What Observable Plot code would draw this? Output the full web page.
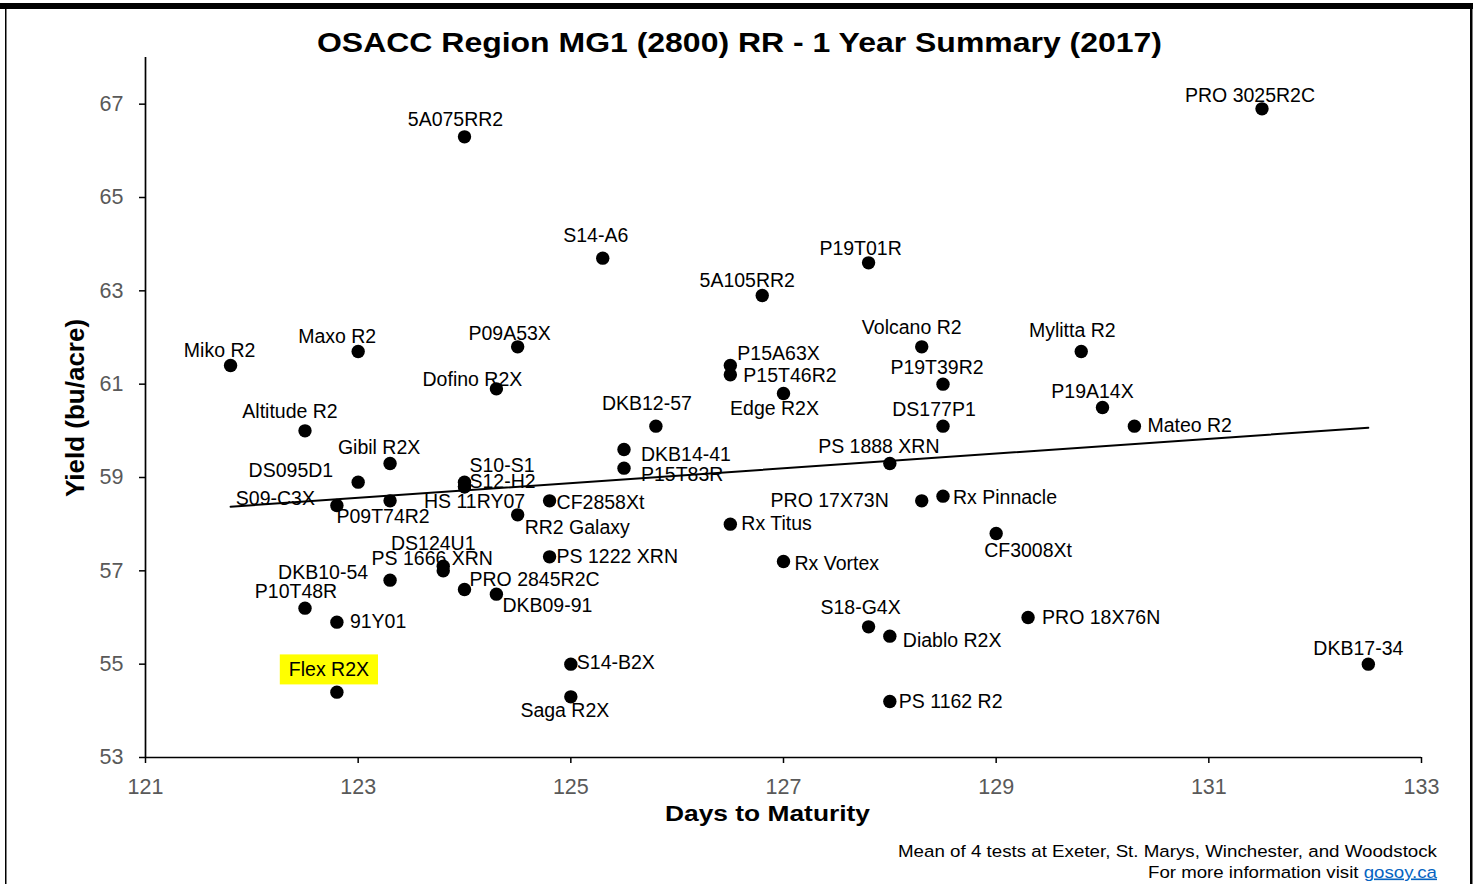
<!DOCTYPE html>
<html><head><meta charset="utf-8">
<script src="https://cdn.jsdelivr.net/npm/d3@7"></script>
<script src="https://cdn.jsdelivr.net/npm/@observablehq/plot@0.6"></script>
<style>
html,body{margin:0;padding:0;background:#fff;}
#chart{position:relative;width:1477px;height:884px;overflow:hidden;}
svg{display:block}
</style></head><body><div id="chart"></div>
<script>
// ---- data ----
const varieties = ["Miko R2","Maxo R2","P09A53X","Dofino R2X","Altitude R2","Gibil R2X","DS095D1","S09-C3X","P09T74R2","S10-S1","S12-H2","HS 11RY07","CF2858Xt","RR2 Galaxy","DKB12-57","DKB14-41","P15T83R","P15A63X","P15T46R2","Edge R2X","5A075RR2","S14-A6","5A105RR2","P19T01R","PRO 3025R2C","Volcano R2","Mylitta R2","P19T39R2","P19A14X","Mateo R2","DS177P1","PS 1888 XRN","PRO 17X73N","Rx Pinnacle","Rx Titus","CF3008Xt","Rx Vortex","S18-G4X","Diablo R2X","PRO 18X76N","DKB17-34","PS 1162 R2","DS124U1","PS 1666 XRN","DKB10-54","P10T48R","91Y01","PRO 2845R2C","DKB09-91","PS 1222 XRN","S14-B2X","Saga R2X","Flex R2X"];
const days = [121.8,123.0,124.5,124.3,122.5,123.3,123.0,122.8,123.3,124.0,124.0,124.0,124.8,124.5,125.8,125.5,125.5,126.5,126.5,127.0,124.0,125.3,126.8,127.8,131.5,128.3,129.8,128.5,130.0,130.3,128.5,128.0,128.3,128.5,126.5,129.0,127.0,127.8,128.0,129.3,132.5,128.0,123.8,123.8,123.3,122.5,122.8,124.0,124.3,124.8,125.0,125.0,122.8];
const yields = [61.4,61.7,61.8,60.9,60.0,59.3,58.9,58.4,58.5,58.9,58.8,58.8,58.5,58.2,60.1,59.6,59.2,61.4,61.2,60.8,66.3,63.7,62.9,63.6,66.9,61.8,61.7,61.0,60.5,60.1,60.1,59.3,58.5,58.6,58.0,57.8,57.2,55.8,55.6,56.0,55.0,54.2,57.1,57.0,56.8,56.2,55.9,56.6,56.5,57.3,55.0,54.3,54.4];
const xTicks = [121,123,125,127,129,131,133];
const yTicks = [53,55,57,59,61,63,65,67];
const highlighted = ["Flex R2X"];
const titleText = "OSACC Region MG1 (2800) RR - 1 Year Summary (2017)";
const xTitle = "Days to Maturity";
const yTitle = "Yield (bu/acre)";
const note1 = "Mean of 4 tests at Exeter, St. Marys, Winchester, and Woodstock";
const note2 = "For more information visit ";
const noteLink = "gosoy.ca";

// ---- label layout (anchor, dx, dy in px), same order as varieties ----
const labelLayout = [
 ["middle",-11,-15],["middle",-21,-15],["middle",-8,-13],["middle",-24,-9],["middle",-15,-19],
 ["middle",-11,-16],["end",-25,-11],["end",-22,-7],["middle",-7,15.5],["start",5,-16.5],
 ["start",5,-5],["middle",10,15],["start",7,2],["start",7,13],["middle",-9,-22],
 ["start",17,5],["start",17,6.5],["start",7,-12],["start",13,0.5],["middle",-9,15],
 ["middle",-9,-17],["middle",-7,-22],["middle",-15,-15],["middle",-8,-14],["middle",-12,-13],
 ["middle",-10,-19],["middle",-9,-21],["middle",-6,-16],["middle",-10,-16],["start",13,0],
 ["middle",-9,-16],["middle",-11,-17],["end",-33,0],["start",10,2],["start",11,0],
 ["start",-12,17],["start",11,2],["middle",-8,-19],["start",13,5],["start",14,0],
 ["middle",-10,-15],["start",9,0],["middle",-10,-22],["middle",-11,-12],["end",-22,-7],
 ["middle",-9,-16],["start",13,0],["start",5,-10],["start",6,12],["start",7,0],
 ["start",6,-1],["middle",-6,14],["middle",-8,-22]
];

const data = varieties.map((name, i) => ({name, days: days[i], yield: yields[i]}));

const FONT = "'Liberation Sans', Arial, Helvetica, sans-serif";

const labelMarks = data.map((d, i) => Plot.text([d], {
  x: "days", y: "yield", text: "name",
  textAnchor: labelLayout[i][0], dx: labelLayout[i][1], dy: labelLayout[i][2],
  fontSize: 19.5, fill: "black"
}));

const svg = Plot.plot({
  width: 1477, height: 884,
  marginLeft: 145, marginRight: 56, marginTop: 57, marginBottom: 127,
  style: {fontFamily: FONT, fontSize: "19.5px", background: "white", color: "black", overflow: "visible"},
  x: {domain: [121, 133], label: null},
  y: {domain: [53, 68], label: null},
  marks: [
    Plot.axisX({ticks: xTicks, tickFormat: d3.format("d"), tickSize: 6, tickPadding: 15, fontSize: 21.5, fill: "#595959", stroke: "black", strokeWidth: 1.5, label: null}),
    Plot.axisY({ticks: yTicks, tickFormat: d3.format("d"), tickSize: 6, tickPadding: 16, fontSize: 21.5, fill: "#595959", stroke: "black", strokeWidth: 1.5, label: null}),
    Plot.ruleX([121], {stroke: "black", strokeWidth: 1.7}),
    Plot.ruleY([53], {stroke: "black", strokeWidth: 1.7}),
    ...labelMarks,
    Plot.linearRegressionY(data, {x: "days", y: "yield", stroke: "black", strokeWidth: 2, ci: 0}),
    Plot.dot(data, {x: "days", y: "yield", r: 6.7, fill: "black"})
  ]
});

document.getElementById("chart").appendChild(svg);
const s = d3.select(svg);

// highlight box behind highlighted label(s)
Array.from(svg.querySelectorAll("text")).forEach(function(t){
  if (!highlighted.includes(t.textContent.trim())) return;
  const b = t.getBBox();
  const r = document.createElementNS("http://www.w3.org/2000/svg", "rect");
  r.setAttribute("x", b.x - 9); r.setAttribute("y", b.y - 4);
  r.setAttribute("width", b.width + 18); r.setAttribute("height", b.height + 8);
  r.setAttribute("fill", "#FFFF00");
  r.setAttribute("stroke", "none");
  const tr = t.getAttribute("transform");
  if (tr) r.setAttribute("transform", tr);
  t.parentNode.insertBefore(r, t);
});

// titles
s.append("text").attr("x", 317).attr("y", 52).attr("text-anchor", "start").attr("font-family", FONT).attr("font-weight", "bold")
 .attr("font-size", 28).attr("fill", "black").attr("textLength", 845).attr("lengthAdjust", "spacingAndGlyphs").text(titleText);
s.append("text").attr("x", 665).attr("y", 821).attr("text-anchor", "start").attr("font-family", FONT).attr("font-weight", "bold")
 .attr("font-size", 22.5).attr("fill", "black").attr("textLength", 205).attr("lengthAdjust", "spacingAndGlyphs").text(xTitle);
s.append("text").attr("transform", "translate(83.5,408) rotate(-90)").attr("text-anchor", "middle")
 .attr("font-family", FONT).attr("font-weight", "bold").attr("font-size", 26).attr("fill", "black").text(yTitle);
s.append("text").attr("x", 898).attr("y", 856.7).attr("text-anchor", "start").attr("font-family", FONT).attr("font-size", 16.3)
 .attr("fill", "black").attr("textLength", 539).attr("lengthAdjust", "spacingAndGlyphs").text(note1);
const n2 = s.append("text").attr("x", 1148).attr("y", 877.5).attr("text-anchor", "start").attr("font-family", FONT).attr("font-size", 16.3)
 .attr("fill", "black").attr("textLength", 289).attr("lengthAdjust", "spacingAndGlyphs");
n2.append("tspan").text(note2);
n2.append("tspan").attr("fill", "#0563C1").attr("text-decoration", "underline").text(noteLink);

// outer frame
s.append("rect").attr("x", 0).attr("y", 3).attr("width", 1473).attr("height", 6).attr("fill", "black");
s.append("rect").attr("x", 5).attr("y", 3).attr("width", 1.5).attr("height", 881).attr("fill", "black");
s.append("rect").attr("x", 1470).attr("y", 3).attr("width", 2.5).attr("height", 881).attr("fill", "black");
</script></body></html>
